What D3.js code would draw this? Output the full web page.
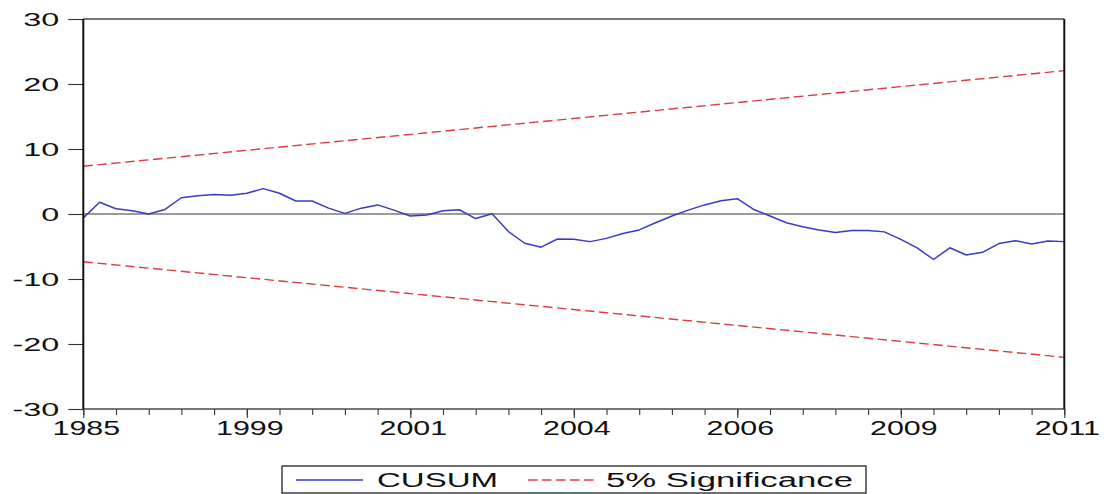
<!DOCTYPE html>
<html>
<head>
<meta charset="utf-8">
<script src="https://cdn.jsdelivr.net/npm/d3@7"></script>
<style>
  html, body { margin: 0; padding: 0; background: #fff; }
  svg { display: block; font-family: "Liberation Sans", Arial, sans-serif; }
</style>
</head>
<body>
<svg id="chart" width="1104" height="494"></svg>
<script>
// CUSUM of recursive residuals, one value per observation
const cusum = [
  -0.6, 1.8, 0.8, 0.5, 0.0, 0.7, 2.5, 2.8, 3.0, 2.9,
  3.2, 3.9, 3.2, 2.0, 2.0, 0.9, 0.1, 0.9, 1.4, 0.6,
  -0.3, -0.15, 0.5, 0.65, -0.7, 0.05, -2.7, -4.5, -5.1, -3.85,
  -3.9, -4.25, -3.75, -3.0, -2.45, -1.35, -0.3, 0.6, 1.4, 2.05,
  2.35, 0.7, -0.3, -1.35, -1.95, -2.45, -2.85, -2.55, -2.55, -2.75,
  -3.9, -5.2, -7.0, -5.2, -6.3, -5.9, -4.55, -4.1, -4.6, -4.15,
  -4.25
];
// 5% significance bounds (straight lines from first to last observation)
const boundObs = [0, 60];
const upperBound = [7.35, 22.05];
const lowerBound = [-7.35, -22.05];

// axis labels
const xTickObs = [0, 10, 20, 30, 40, 50, 60];
const xTickLabels = ["1985", "1999", "2001", "2004", "2006", "2009", "2011"];
const yTicks = [-30, -20, -10, 0, 10, 20, 30];
const legendLabels = ["CUSUM", "5% Significance"];

const svg = d3.select("#chart");
const plotLeft = 83.3, plotRight = 1064.3, plotTop = 19, plotBottom = 409;

const x = d3.scaleLinear().domain([0, cusum.length - 1]).range([plotLeft, plotRight]);
const y = d3.scaleLinear().domain([-30, 30]).range([plotBottom, plotTop]);

const blue = "#3a3ac4";
const red = "#dc3c40";
const dash = "9.5,4.5";

// zero reference line
svg.append("line")
  .attr("x1", plotLeft).attr("x2", plotRight)
  .attr("y1", y(0)).attr("y2", y(0))
  .attr("stroke", "#7a7a7a").attr("stroke-width", 1.3);

// significance bounds
const boundLine = d3.line().x((d, i) => x(boundObs[i])).y(d => y(d));
[upperBound, lowerBound].forEach(b => {
  svg.append("path")
    .attr("d", boundLine(b))
    .attr("fill", "none")
    .attr("stroke", red)
    .attr("stroke-width", 1.4)
    .attr("stroke-dasharray", dash);
});

// CUSUM line
svg.append("path")
  .attr("d", d3.line().x((d, i) => x(i)).y(d => y(d))(cusum))
  .attr("fill", "none")
  .attr("stroke", blue)
  .attr("stroke-width", 1.5)
  .attr("stroke-linejoin", "round");

// x axis: minor ticks every two observations, longer labelled ticks
const xMinor = svg.append("g")
  .attr("transform", `translate(0,${plotBottom})`)
  .call(d3.axisBottom(x).tickValues(d3.range(0, cusum.length, 2)).tickSize(6).tickFormat(""));
const xMajor = svg.append("g")
  .attr("transform", `translate(0,${plotBottom})`)
  .call(d3.axisBottom(x).tickValues(xTickObs).tickSize(9)
    .tickFormat((d, i) => xTickLabels[i]).tickPadding(4));
const xStretch = 1.52;
xMajor.selectAll("text")
  .attr("font-size", 20)
  .attr("fill", "#111")
  .attr("dy", null)
  .attr("y", 26)
  .attr("x", 2.5 / xStretch)
  .attr("transform", `scale(${xStretch},1)`);

// y axis
const yAxis = svg.append("g")
  .attr("transform", `translate(${plotLeft},0)`)
  .call(d3.axisLeft(y).tickValues(yTicks).tickSize(15).tickFormat(d3.format("d")));
const yStretch = 1.85;
yAxis.selectAll("text")
  .attr("font-size", 17.5)
  .attr("fill", "#111")
  .attr("dy", "0.35em")
  .attr("x", -24 / yStretch)
  .text(d => String(d))
  .attr("transform", `scale(${yStretch},1)`);

[xMinor, xMajor, yAxis].forEach(g => {
  g.select(".domain").remove();
  g.selectAll(".tick line").attr("stroke", "#333").attr("stroke-width", 1.1);
});

// plot frame
svg.append("line").attr("x1", plotLeft).attr("x2", plotRight).attr("y1", plotTop).attr("y2", plotTop)
  .attr("stroke", "#4a4a4a").attr("stroke-width", 1.5);
svg.append("line").attr("x1", plotLeft).attr("x2", plotRight).attr("y1", plotBottom).attr("y2", plotBottom)
  .attr("stroke", "#4a4a4a").attr("stroke-width", 1.5);
svg.append("line").attr("x1", plotLeft).attr("x2", plotLeft).attr("y1", plotTop).attr("y2", plotBottom)
  .attr("stroke", "#111").attr("stroke-width", 2);
svg.append("line").attr("x1", plotRight).attr("x2", plotRight).attr("y1", plotTop).attr("y2", plotBottom)
  .attr("stroke", "#111").attr("stroke-width", 2);

// legend
const legend = svg.append("g");
legend.append("rect")
  .attr("x", 282).attr("y", 466).attr("width", 584).attr("height", 27)
  .attr("fill", "#fff").attr("stroke", "#222").attr("stroke-width", 1.3);
legend.append("line")
  .attr("x1", 296).attr("x2", 363).attr("y1", 480).attr("y2", 480)
  .attr("stroke", blue).attr("stroke-width", 1.3);
legend.append("line")
  .attr("x1", 528).attr("x2", 596).attr("y1", 480).attr("y2", 480)
  .attr("stroke", red).attr("stroke-width", 1.3).attr("stroke-dasharray", dash);
[[377, 121, legendLabels[0]], [606, 247, legendLabels[1]]].forEach(([lx, w, t]) => {
  legend.append("text")
    .attr("x", lx).attr("y", 486.5)
    .attr("font-size", 20)
    .attr("fill", "#111")
    .attr("textLength", w)
    .attr("lengthAdjust", "spacingAndGlyphs")
    .text(t);
});
</script>
</body>
</html>
